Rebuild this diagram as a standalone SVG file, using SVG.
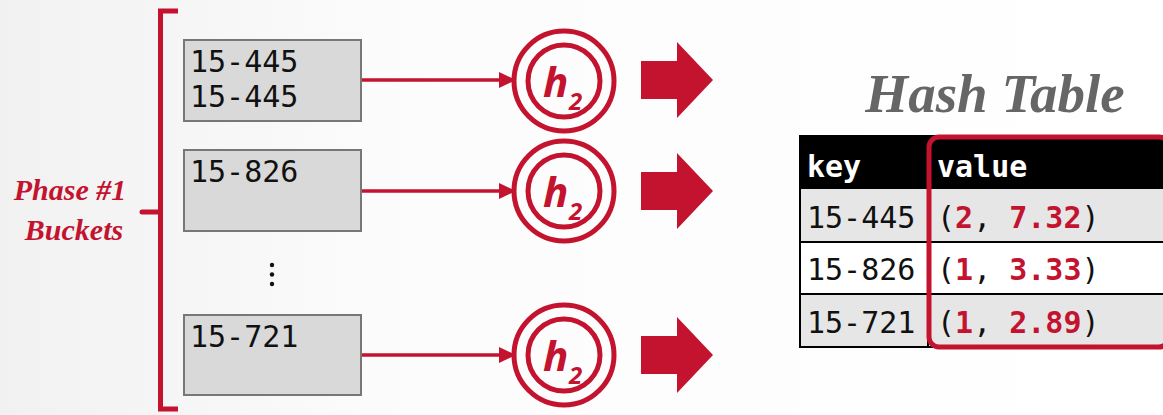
<svg xmlns="http://www.w3.org/2000/svg" width="1163" height="415" viewBox="0 0 1163 415">
<defs>
<linearGradient id="bg" x1="0" y1="0" x2="1" y2="0">
<stop offset="0" stop-color="#f1f1f1"/>
<stop offset="0.35" stop-color="#fcfcfc"/>
<stop offset="1" stop-color="#ffffff"/>
</linearGradient>
<marker id="ah" markerUnits="userSpaceOnUse" markerWidth="18" markerHeight="18" refX="17" refY="8" orient="auto">
<path d="M0,0 L17,8 L0,16 Z" fill="#c3132f"/>
</marker>
<style>
.box{fill:#d9d9d9;stroke:#777;stroke-width:2}
.mono{font-family:"DejaVu Sans Mono","Liberation Mono",monospace;font-size:30px;fill:#111}
.conn{stroke:#c3132f;stroke-width:3.5;fill:none}
.ring{fill:none;stroke:#c3132f;stroke-width:5}
.h{font-family:"Open Sans","DejaVu Sans",sans-serif;font-style:italic;font-weight:700;fill:#c3132f}
.big{fill:#c3132f}
.red{fill:#c3132f;font-weight:bold}
.lbl{font-family:"Liberation Serif",serif;font-style:italic;font-weight:bold;font-size:30px;fill:#c3132f}
</style>
</defs>
<rect width="1163" height="415" fill="url(#bg)"/>

<g id="bracket">
<path d="M178,11 H160.5 V409 H178" fill="none" stroke="#c3132f" stroke-width="5"/>
<path d="M142,212 H160" fill="none" stroke="#c3132f" stroke-width="5" stroke-linecap="round"/>
<text class="lbl" x="70" y="200" text-anchor="middle">Phase #1</text>
<text class="lbl" x="74" y="240" text-anchor="middle" font-size="31">Buckets</text>
</g>

<g id="bucket1">
<rect class="box" x="184" y="40" width="177" height="81"/>
<text class="mono" x="190" y="72">15-445</text>
<text class="mono" x="190" y="107">15-445</text>
</g>
<g id="bucket2">
<rect class="box" x="184" y="150" width="177" height="81"/>
<text class="mono" x="190" y="182">15-826</text>
</g>
<g id="ellipsis">
<circle cx="272" cy="265" r="2.2" fill="#111"/>
<circle cx="272" cy="274.5" r="2.2" fill="#111"/>
<circle cx="272" cy="284" r="2.2" fill="#111"/>
</g>
<g id="bucket3">
<rect class="box" x="184" y="315" width="177" height="80"/>
<text class="mono" x="190" y="347">15-721</text>
</g>

<g id="connectors">
<line class="conn" x1="362" y1="80" x2="516" y2="80" marker-end="url(#ah)"/>
<line class="conn" x1="362" y1="191" x2="516" y2="191" marker-end="url(#ah)"/>
<line class="conn" x1="362" y1="355" x2="516" y2="355" marker-end="url(#ah)"/>
</g>

<g id="hash1">
<circle class="ring" cx="564" cy="81" r="50"/>
<circle class="ring" cx="564" cy="81" r="36"/>
<text class="h" x="543" y="97" font-size="42">h</text>
<text class="h" x="569" y="110" font-size="24">2</text>
</g>
<g id="hash2">
<circle class="ring" cx="564" cy="191" r="50"/>
<circle class="ring" cx="564" cy="191" r="36"/>
<text class="h" x="543" y="207" font-size="42">h</text>
<text class="h" x="569" y="220" font-size="24">2</text>
</g>
<g id="hash3">
<circle class="ring" cx="564" cy="355" r="50"/>
<circle class="ring" cx="564" cy="355" r="36"/>
<text class="h" x="543" y="371" font-size="42">h</text>
<text class="h" x="569" y="384" font-size="24">2</text>
</g>

<g id="arrow1"><path class="big" d="M641,61 H677 V42 L713,80 L677,118 V99 H641 Z"/></g>
<g id="arrow2"><path class="big" d="M641,172 H677 V153 L713,191 L677,229 V210 H641 Z"/></g>
<g id="arrow3"><path class="big" d="M641,336 H677 V317 L713,355 L677,393 V374 H641 Z"/></g>

<g id="hashtable">
<text x="995" y="112" text-anchor="middle" font-family="Liberation Serif,serif" font-style="italic" font-weight="bold" font-size="55" fill="#666">Hash Table</text>
<rect x="799" y="135" width="364" height="54" fill="#000"/>
<rect x="799" y="189" width="364" height="53" fill="#e6e6e6"/>
<rect x="799" y="242" width="364" height="52" fill="#fff"/>
<rect x="799" y="294" width="364" height="53" fill="#e6e6e6"/>
<g stroke="#000" stroke-width="2">
<line x1="799" y1="242" x2="1163" y2="242"/>
<line x1="799" y1="294" x2="1163" y2="294"/>
<line x1="799" y1="347" x2="1163" y2="347"/>
<line x1="800" y1="135" x2="800" y2="348"/>
<line x1="928" y1="135" x2="928" y2="348"/>
</g>
<text class="mono" x="807" y="177" style="fill:#fff;font-weight:bold">key</text>
<text class="mono" x="937" y="177" style="fill:#fff;font-weight:bold">value</text>
<text class="mono" x="807" y="228">15-445</text>
<text class="mono" x="807" y="280">15-826</text>
<text class="mono" x="807" y="333">15-721</text>
<text class="mono" x="937" y="228">(<tspan class="red">2</tspan>, <tspan class="red">7.32</tspan>)</text>
<text class="mono" x="937" y="280">(<tspan class="red">1</tspan>, <tspan class="red">3.33</tspan>)</text>
<text class="mono" x="937" y="333">(<tspan class="red">1</tspan>, <tspan class="red">2.89</tspan>)</text>
<rect x="929" y="137" width="240" height="210" rx="10" fill="none" stroke="#c3132f" stroke-width="5"/>
</g>
</svg>
